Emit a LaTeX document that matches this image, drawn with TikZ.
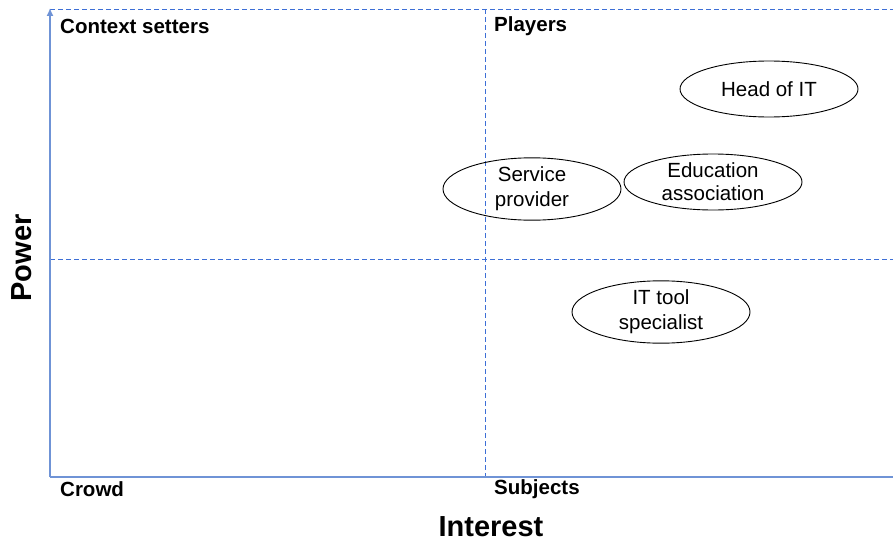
\documentclass[tikz,border=0pt]{standalone}
\usepackage{fontspec}
\setmainfont{Liberation Sans}
\usetikzlibrary{shapes.geometric,arrows.meta}
\definecolor{axisblue}{HTML}{6F93D6}
\definecolor{gridblue}{HTML}{3D6FD6}
\begin{document}
\begin{tikzpicture}[x=1pt,y=-1pt,
  quadlabel/.style={anchor=west,font=\fontsize{20.5}{24}\selectfont\bfseries,inner sep=0pt},
  stakeholder/.style={ellipse,draw=black,line width=0.9pt,minimum width=178pt,minimum height=56pt,
    align=center,inner sep=0pt,font=\fontsize{20.5}{25}\selectfont},
  gridline/.style={draw=gridblue,dash pattern=on 5pt off 3pt,line width=0.9pt},
  axisline/.style={draw=axisblue,line width=1.4pt}]
\useasboundingbox (0,0) rectangle (893,543);
% quadrant grid
\coordinate (tl) at (50,9);
\coordinate (tr) at (893,9);
\coordinate (ml) at (50,259);
\coordinate (mr) at (893,259);
\coordinate (tm) at (485,9);
\coordinate (bm) at (485,477);
\coordinate (bl) at (50,477);
\coordinate (br) at (893,477);
\coordinate (top) at (50,8);
\draw[gridline] (tl) -- (tr);
\draw[gridline] (ml) -- (mr);
\draw[gridline] (tm) -- (bm);
% axes
\draw[axisline] (bl) -- (br);
\draw[axisline,-{Latex[length=8pt,width=7pt]}] (bl) -- (top);
% quadrant titles
\node[quadlabel] (cs) at (60,26) {Context setters};
\node[quadlabel] (pl) at (494,26) {Players};
\node[quadlabel] (cr) at (60,489) {Crowd};
\node[quadlabel] (sb) at (494,489) {Subjects};
% axis titles
\node[font=\fontsize{29}{32}\selectfont\bfseries,rotate=90] (power) at (22,258) {Power};
\node[font=\fontsize{29}{32}\selectfont\bfseries] (interest) at (491,527) {Interest};
% stakeholders
\node[stakeholder] (head) at (769,89) {Head of IT};
\node[stakeholder] (edu) at (713,182) {\raisebox{-2pt}{Education}\\association};
\node[stakeholder] (svc) at (532,189) {\raisebox{-3pt}{Service}\\\raisebox{-3pt}{provider}};
\node[stakeholder] (tool) at (661,312) {\raisebox{-2pt}{IT tool}\\\raisebox{-2pt}{specialist}};
\end{tikzpicture}
\end{document}
